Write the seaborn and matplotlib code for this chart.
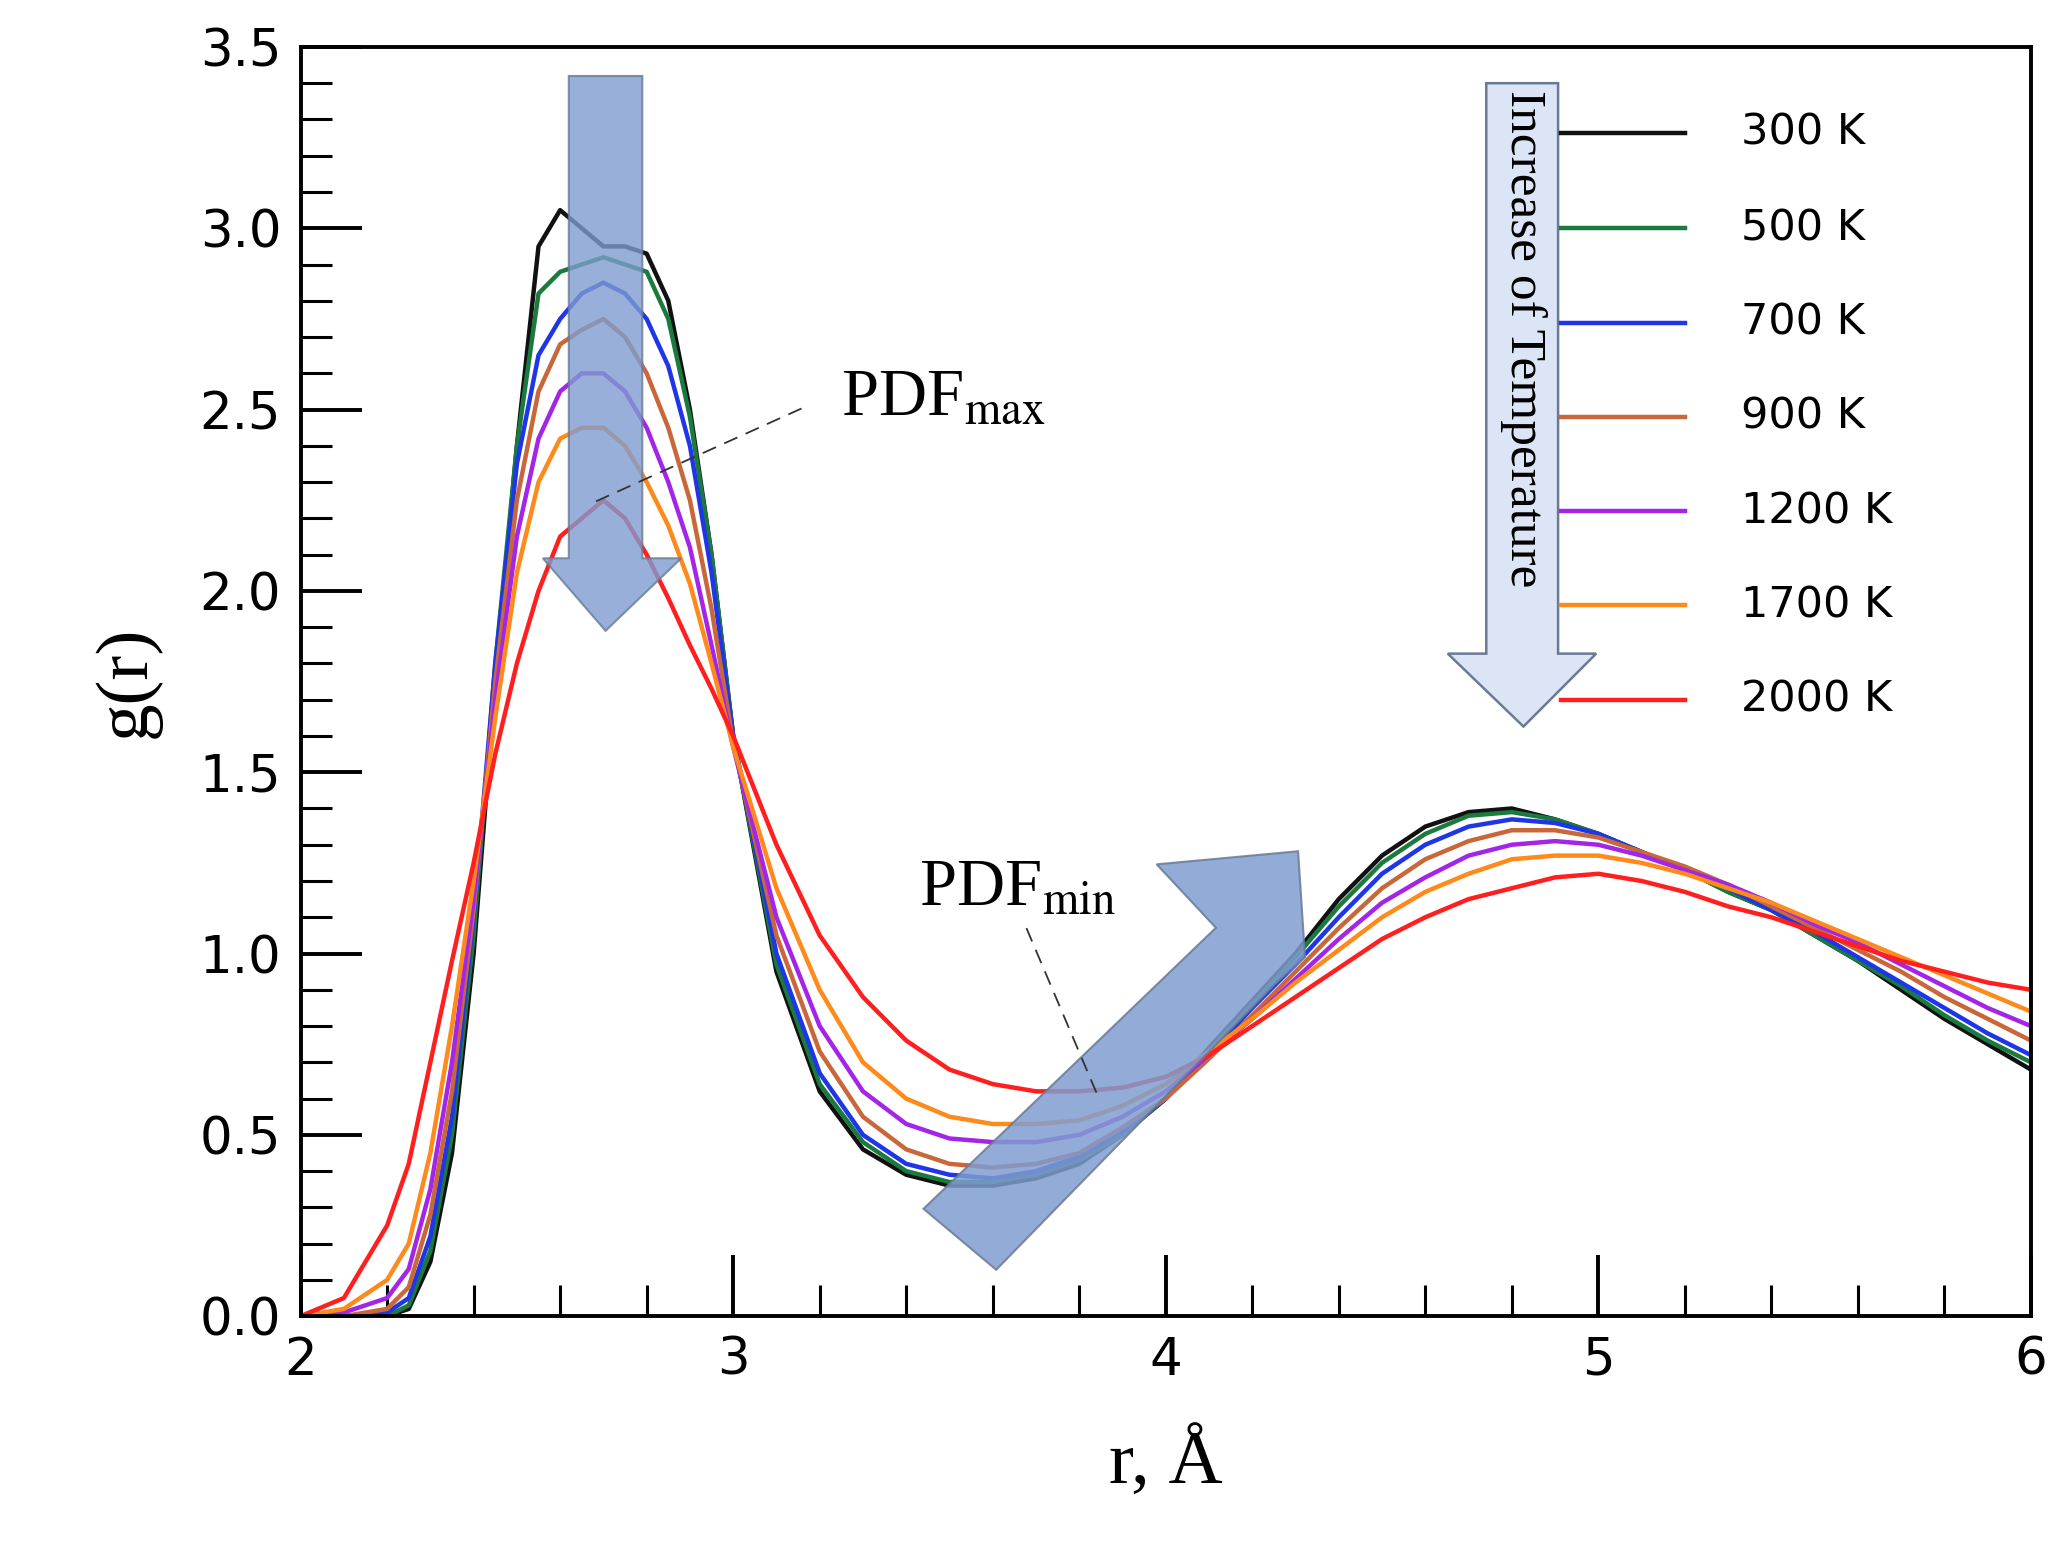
import numpy as np
import pandas as pd
import matplotlib
matplotlib.use("Agg")
import matplotlib.pyplot as plt
import seaborn as sns
from matplotlib.patches import Polygon
from matplotlib.ticker import MultipleLocator

r = [2.0, 2.1, 2.2, 2.25, 2.3, 2.35, 2.4, 2.45, 2.5, 2.55, 2.6, 2.65, 2.7, 2.75, 2.8, 2.85,
     2.9, 2.95, 3.0, 3.1, 3.2, 3.3, 3.4, 3.5, 3.6, 3.7, 3.8, 3.9, 4.0, 4.1, 4.2, 4.3, 4.4,
     4.5, 4.6, 4.7, 4.8, 4.9, 5.0, 5.1, 5.2, 5.3, 5.4, 5.5, 5.6, 5.7, 5.8, 5.9, 6.0]

g_300 = [0, 0, 0, 0.02, 0.15, 0.45, 1.0, 1.75, 2.4, 2.95, 3.05, 3.0, 2.95, 2.95, 2.93, 2.8, 2.5, 2.1, 1.6,
         0.95, 0.62, 0.46, 0.39, 0.36, 0.36, 0.38, 0.42, 0.5, 0.6, 0.74, 0.87, 1.0, 1.15, 1.27, 1.35,
         1.39, 1.40, 1.37, 1.33, 1.28, 1.23, 1.17, 1.12, 1.05, 0.98, 0.9, 0.82, 0.75, 0.68]
g_500 = [0, 0, 0, 0.03, 0.18, 0.5, 1.05, 1.8, 2.4, 2.82, 2.88, 2.9, 2.92, 2.9, 2.88, 2.75, 2.48, 2.1, 1.6,
         0.97, 0.64, 0.48, 0.4, 0.37, 0.37, 0.39, 0.43, 0.5, 0.6, 0.73, 0.86, 0.99, 1.13, 1.25, 1.33,
         1.38, 1.39, 1.37, 1.33, 1.28, 1.23, 1.17, 1.12, 1.05, 0.98, 0.91, 0.83, 0.76, 0.70]
g_700 = [0, 0, 0.01, 0.05, 0.22, 0.55, 1.1, 1.8, 2.35, 2.65, 2.75, 2.82, 2.85, 2.82, 2.75, 2.62, 2.4, 2.05, 1.6,
         1.0, 0.67, 0.5, 0.42, 0.39, 0.38, 0.4, 0.44, 0.51, 0.6, 0.72, 0.85, 0.97, 1.1, 1.22, 1.3,
         1.35, 1.37, 1.36, 1.33, 1.28, 1.23, 1.18, 1.12, 1.06, 0.99, 0.92, 0.85, 0.78, 0.72]
g_900 = [0, 0, 0.02, 0.08, 0.28, 0.62, 1.12, 1.75, 2.25, 2.55, 2.68, 2.72, 2.75, 2.7, 2.6, 2.45, 2.25, 1.95, 1.58,
         1.05, 0.73, 0.55, 0.46, 0.42, 0.41, 0.42, 0.45, 0.52, 0.6, 0.71, 0.83, 0.95, 1.07, 1.18, 1.26,
         1.31, 1.34, 1.34, 1.32, 1.28, 1.24, 1.19, 1.13, 1.07, 1.01, 0.95, 0.88, 0.82, 0.76]
g_1200 = [0, 0.01, 0.05, 0.13, 0.35, 0.7, 1.15, 1.7, 2.15, 2.42, 2.55, 2.6, 2.6, 2.55, 2.45, 2.3, 2.12, 1.85, 1.57,
          1.1, 0.8, 0.62, 0.53, 0.49, 0.48, 0.48, 0.5, 0.55, 0.62, 0.72, 0.82, 0.93, 1.04, 1.14, 1.21,
          1.27, 1.3, 1.31, 1.3, 1.27, 1.23, 1.19, 1.14, 1.08, 1.03, 0.97, 0.91, 0.85, 0.8]
g_1700 = [0, 0.02, 0.1, 0.2, 0.45, 0.8, 1.2, 1.65, 2.05, 2.3, 2.42, 2.45, 2.45, 2.4, 2.3, 2.18, 2.02, 1.8, 1.57,
          1.18, 0.9, 0.7, 0.6, 0.55, 0.53, 0.53, 0.54, 0.58, 0.64, 0.73, 0.82, 0.92, 1.01, 1.1, 1.17,
          1.22, 1.26, 1.27, 1.27, 1.25, 1.22, 1.18, 1.14, 1.09, 1.04, 0.99, 0.94, 0.89, 0.84]
g_2000 = [0, 0.05, 0.25, 0.42, 0.7, 0.98, 1.25, 1.55, 1.8, 2.0, 2.15, 2.2, 2.25, 2.2, 2.1, 1.98, 1.85, 1.73, 1.6,
          1.3, 1.05, 0.88, 0.76, 0.68, 0.64, 0.62, 0.62, 0.63, 0.66, 0.72, 0.8, 0.88, 0.96, 1.04, 1.1,
          1.15, 1.18, 1.21, 1.22, 1.2, 1.17, 1.13, 1.1, 1.06, 1.02, 0.98, 0.95, 0.92, 0.9]

labels = ["300 K", "500 K", "700 K", "900 K", "1200 K", "1700 K", "2000 K"]
series = [g_300, g_500, g_700, g_900, g_1200, g_1700, g_2000]
colors = ["#111111", "#1b7a3e", "#1f35e8", "#c8683a", "#a326e8", "#ff8a1c", "#ff1f1f"]

df = pd.concat([pd.DataFrame({"r": r, "g": g, "T": lab}) for g, lab in zip(series, labels)])

plt.rcParams["mathtext.fontset"] = "stix"
fig = plt.figure(figsize=(20.66, 15.65), dpi=100)
ax = fig.add_axes([0.1455, 0.159, 0.8375, 0.811])

sns.lineplot(data=df, x="r", y="g", hue="T", palette=colors, hue_order=labels,
             linewidth=3.2, legend=False, ax=ax, zorder=2)

ax.set_xlim(2, 6)
ax.set_ylim(0, 3.5)
ax.xaxis.set_major_locator(MultipleLocator(1))
ax.xaxis.set_minor_locator(MultipleLocator(0.2))
ax.yaxis.set_major_locator(MultipleLocator(0.5))
ax.yaxis.set_minor_locator(MultipleLocator(0.1))
ax.yaxis.set_major_formatter(matplotlib.ticker.FormatStrFormatter("%.1f"))
ax.tick_params(which="major", direction="in", length=44, width=2.8, labelsize=37, pad=14)
ax.tick_params(which="minor", direction="in", length=22, width=2.2)
for s in ax.spines.values():
    s.set_linewidth(2.8)
for t in ax.get_xticklabels() + ax.get_yticklabels():
    t.set_fontfamily("DejaVu Sans")

ax.set_xlabel("r, Å", fontfamily="Liberation Serif", fontsize=54, labelpad=30)
ax.set_ylabel("g(r)", fontfamily="Liberation Serif", fontsize=54, labelpad=28)

# down arrow at first peak
down = [(2.62, 3.42), (2.79, 3.42), (2.79, 2.09), (2.88, 2.09), (2.705, 1.89),
        (2.56, 2.09), (2.62, 2.09)]
ax.add_patch(Polygon(down, closed=True, facecolor="#7f9dd0", edgecolor="#6a7a95",
                     alpha=0.8, linewidth=1.5, zorder=3))
# diagonal arrow at minimum
diag = [(3.44, 0.296), (3.608, 0.128), (4.254, 0.917), (4.322, 0.99), (4.306, 1.282),
        (3.979, 1.246), (4.116, 1.071)]
ax.add_patch(Polygon(diag, closed=True, facecolor="#7f9dd0", edgecolor="#6a7a95",
                     alpha=0.85, linewidth=1.5, zorder=3))
# temperature arrow
temp = [(4.741, 3.40), (4.907, 3.40), (4.907, 1.827), (4.995, 1.827), (4.827, 1.626),
        (4.652, 1.827), (4.741, 1.827)]
ax.add_patch(Polygon(temp, closed=True, facecolor="#dce5f5", edgecolor="#6a7a95",
                     linewidth=1.8, zorder=3))
ax.text(4.826, 3.38, "Increase of Temperature", rotation=-90, ha="center", va="top",
        fontfamily="Liberation Serif", fontsize=37, zorder=4)

# manual legend
leg_y = [3.263, 3.0, 2.74, 2.48, 2.22, 1.96, 1.70]
for lab, c, yy in zip(labels, colors, leg_y):
    ax.plot([4.913, 5.2], [yy, yy], color=c, linewidth=3.2, zorder=4)
    ax.text(5.33, yy, lab, va="center", ha="left", fontsize=31, fontfamily="DejaVu Sans")

# annotations
ax.text(3.25, 2.53, r"PDF$_{\rm max}$", fontfamily="Liberation Serif", fontsize=48,
        va="center", ha="left", zorder=5)
ax.plot([3.158, 2.683], [2.503, 2.247], color="#333333", linestyle=(0, (8, 5)), linewidth=1.3, zorder=5)
ax.text(3.43, 1.18, r"PDF$_{\rm min}$", fontfamily="Liberation Serif", fontsize=48,
        va="center", ha="left", zorder=5)
ax.plot([3.678, 3.847], [1.07, 0.596], color="#333333", linestyle=(0, (8, 5)), linewidth=1.3, zorder=5)

fig.savefig("out.png", dpi=100)
